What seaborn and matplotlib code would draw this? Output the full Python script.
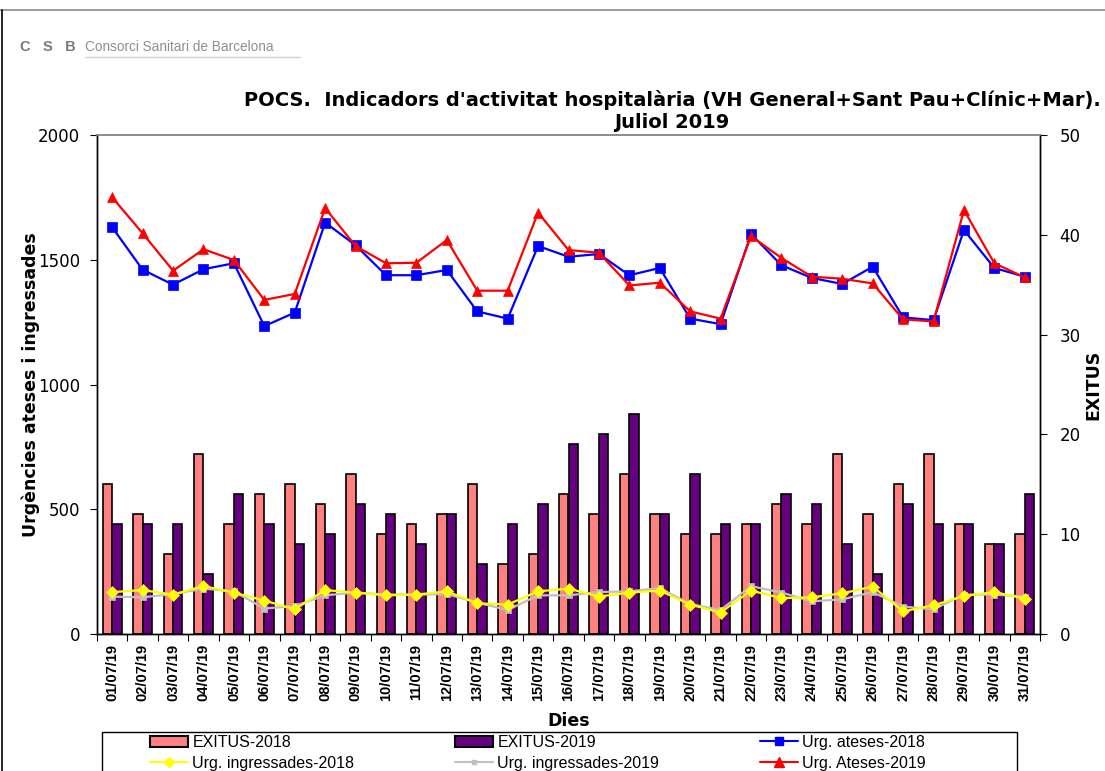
import numpy as np
import pandas as pd
import matplotlib
matplotlib.use("Agg")
import matplotlib.pyplot as plt
import seaborn as sns
from matplotlib.patches import Patch, Rectangle
from matplotlib.lines import Line2D

dies = ["01/07/19", "02/07/19", "03/07/19", "04/07/19", "05/07/19", "06/07/19",
        "07/07/19", "08/07/19", "09/07/19", "10/07/19", "11/07/19", "12/07/19",
        "13/07/19", "14/07/19", "15/07/19", "16/07/19", "17/07/19", "18/07/19",
        "19/07/19", "20/07/19", "21/07/19", "22/07/19", "23/07/19", "24/07/19",
        "25/07/19", "26/07/19", "27/07/19", "28/07/19", "29/07/19", "30/07/19",
        "31/07/19"]

exitus_2018 = [15, 12, 8, 18, 11, 14, 15, 13, 16, 10, 11, 12, 15, 7, 8, 14,
               12, 16, 12, 10, 10, 11, 13, 11, 18, 12, 15, 18, 11, 9, 10]
exitus_2019 = [11, 11, 11, 6, 14, 11, 9, 10, 13, 12, 9, 12, 7, 11, 13, 19,
               20, 22, 12, 16, 11, 11, 14, 13, 9, 6, 13, 11, 11, 9, 14]

ateses_2018 = [1630, 1460, 1400, 1462, 1486, 1234, 1288, 1649, 1558, 1438, 1438,
               1459, 1293, 1264, 1555, 1512, 1523, 1438, 1467, 1264, 1242, 1603,
               1478, 1427, 1403, 1472, 1269, 1258, 1619, 1467, 1432]
ateses_2019 = [1750, 1606, 1456, 1542, 1499, 1339, 1363, 1707, 1555, 1486, 1488,
               1579, 1376, 1376, 1689, 1539, 1528, 1397, 1408, 1293, 1264, 1595,
               1507, 1432, 1424, 1405, 1261, 1253, 1699, 1486, 1429]

ingr_2018 = [168, 176, 158, 192, 166, 134, 99, 176, 166, 155, 158, 171, 123, 118,
             171, 182, 150, 166, 174, 118, 86, 174, 144, 147, 163, 190, 91, 115,
             152, 168, 142]
ingr_2019 = [150, 147, 160, 182, 171, 102, 112, 155, 166, 158, 158, 160, 126, 96,
             155, 155, 168, 171, 184, 120, 96, 192, 166, 131, 139, 168, 110, 99,
             158, 158, 150]

PINK = "#ff8080"
PURPLE = "#660080"

sns.set_style("ticks")
plt.rcParams["font.family"] = ["DejaVu Sans"]
plt.rcParams.update({"text.color": "black", "axes.labelcolor": "black",
                     "xtick.color": "black", "ytick.color": "black"})
LIB = ["Liberation Sans", "DejaVu Sans"]

W, H = 1105, 771
fig = plt.figure(figsize=(W / 100, H / 100), dpi=100)
ax1 = fig.add_axes([97 / W, 1 - 634 / H, (1040 - 97) / W, (634 - 135) / H])
ax2 = ax1.twinx()

# EXITUS bars on the right axis
df_ex = pd.DataFrame({
    "dia": dies * 2,
    "serie": ["EXITUS-2018"] * len(dies) + ["EXITUS-2019"] * len(dies),
    "exitus": exitus_2018 + exitus_2019,
})
sns.barplot(data=df_ex, x="dia", y="exitus", hue="serie", order=dies,
            palette=[PINK, PURPLE], saturation=1, width=0.62, errorbar=None,
            edgecolor="black", linewidth=1.2, legend=False, ax=ax2)

# urgencies lines on the left axis
line_kw = dict(errorbar=None, ax=ax1, order=dies)
sns.pointplot(x=dies, y=ingr_2019, color="#c0c0c0", markers="s", markersize=4,
              linewidth=1.6, markeredgewidth=0.5, **line_kw)
sns.pointplot(x=dies, y=ingr_2018, color="#ffff00", markers="D", markersize=6,
              linewidth=1.6, markeredgewidth=0.5, **line_kw)
sns.pointplot(x=dies, y=ateses_2018, color="#0000ff", markers="s", markersize=6.5,
              linewidth=1.6, markeredgewidth=0.5, **line_kw)
sns.pointplot(x=dies, y=ateses_2019, color="#ff0000", markers="^", markersize=7,
              linewidth=1.6, markeredgewidth=0.5, **line_kw)

ax1.set_zorder(ax2.get_zorder() + 1)
ax1.patch.set_visible(False)

ax1.set_ylim(0, 2000)
ax1.set_yticks(np.arange(0, 2001, 500))
ax2.set_ylim(0, 50)
ax2.set_yticks(np.arange(0, 51, 10))
ax1.set_xlim(-0.5, len(dies) - 0.5)

ax1.set_xticks(np.arange(len(dies)))
ax1.set_xticklabels(dies, rotation=90, fontsize=10.5, fontweight="bold", family=LIB)
ax1.set_xticks(np.arange(-0.5, len(dies), 1), minor=True)
ax1.tick_params(axis="x", which="major", length=0, pad=7)
ax1.tick_params(axis="x", which="minor", length=5, width=0.8, direction="out", color="black")
ax1.tick_params(axis="y", length=5, width=0.8, pad=7, labelsize=12, color="black")
ax2.tick_params(axis="y", length=5, width=0.8, pad=9, labelsize=12, color="black")

for ax in (ax1, ax2):
    ax.grid(False)
    ax.spines["top"].set_visible(True)
    ax.spines["top"].set_color("#8c8c8c")
    ax.spines["top"].set_linewidth(1.2)
    for s in ("left", "right", "bottom"):
        ax.spines[s].set_visible(True)
        ax.spines[s].set_color("black")
        ax.spines[s].set_linewidth(1.0)

ax1.set_xlabel("Dies", fontsize=12.5, fontweight="bold", labelpad=8)
ax1.set_ylabel("Urgències ateses i ingressades", fontsize=12.5, fontweight="bold", labelpad=-1)
ax2.set_ylabel("EXITUS", fontsize=12.5, fontweight="bold", labelpad=3)

# two-line title, centred right of the axes centre as in the original
fig.text(672 / W, 1 - 100 / H,
         "POCS.  Indicadors d'activitat hospitalària (VH General+Sant Pau+Clínic+Mar).",
         ha="center", va="center", fontsize=14, fontweight="bold")
fig.text(672 / W, 1 - 123 / H, "Juliol 2019",
         ha="center", va="center", fontsize=14, fontweight="bold")

# logo text
fig.text(20 / W, 1 - 47 / H, "C   S   B", color="#7a7a7a", fontsize=10.5,
         fontweight="bold", va="center", family=LIB)
fig.text(85 / W, 1 - 47 / H, "Consorci Sanitari de Barcelona", color="#8f8f8f",
         fontsize=9.8, va="center", family=LIB)
fig.add_artist(Line2D([85 / W, 300 / W], [1 - 57 / H, 1 - 57 / H], color="#d0d0d0", lw=1))

# outer frame fragments
fig.add_artist(Line2D([0, 1], [1 - 10 / H, 1 - 10 / H], color="#8c8c8c", lw=1.2))
fig.add_artist(Line2D([1.5 / W, 1.5 / W], [0, 1 - 10 / H], color="black", lw=1.2))

# legend
handles = [
    Patch(facecolor=PINK, edgecolor="black", linewidth=1.5),
    Line2D([], [], color="#ffff00", marker="D", markersize=5, lw=1.5),
    Patch(facecolor=PURPLE, edgecolor="black", linewidth=1.5),
    Line2D([], [], color="#c0c0c0", marker="s", markersize=3.5, lw=1.5),
    Line2D([], [], color="#0000ff", marker="s", markersize=6, lw=1.5),
    Line2D([], [], color="#ff0000", marker="^", markersize=7, lw=1.5),
]
labels = ["EXITUS-2018", "Urg. ingressades-2018", "EXITUS-2019",
          "Urg. ingressades-2019", "Urg. ateses-2018", "Urg. Ateses-2019"]
fig.legend(handles, labels, ncol=3, loc="upper left",
           bbox_to_anchor=(150 / W, 1 - 735 / H), frameon=False,
           prop={"family": LIB, "size": 11.5},
           handlelength=2.4, handletextpad=0.25, columnspacing=6.3,
           borderpad=0, borderaxespad=0, labelspacing=0.35)
fig.add_artist(Rectangle((102 / W, -0.02), (1017 - 102) / W, (771 - 732) / H + 0.02,
                         transform=fig.transFigure, fill=False, edgecolor="black", lw=1))

fig.savefig("out.png", dpi=100)
